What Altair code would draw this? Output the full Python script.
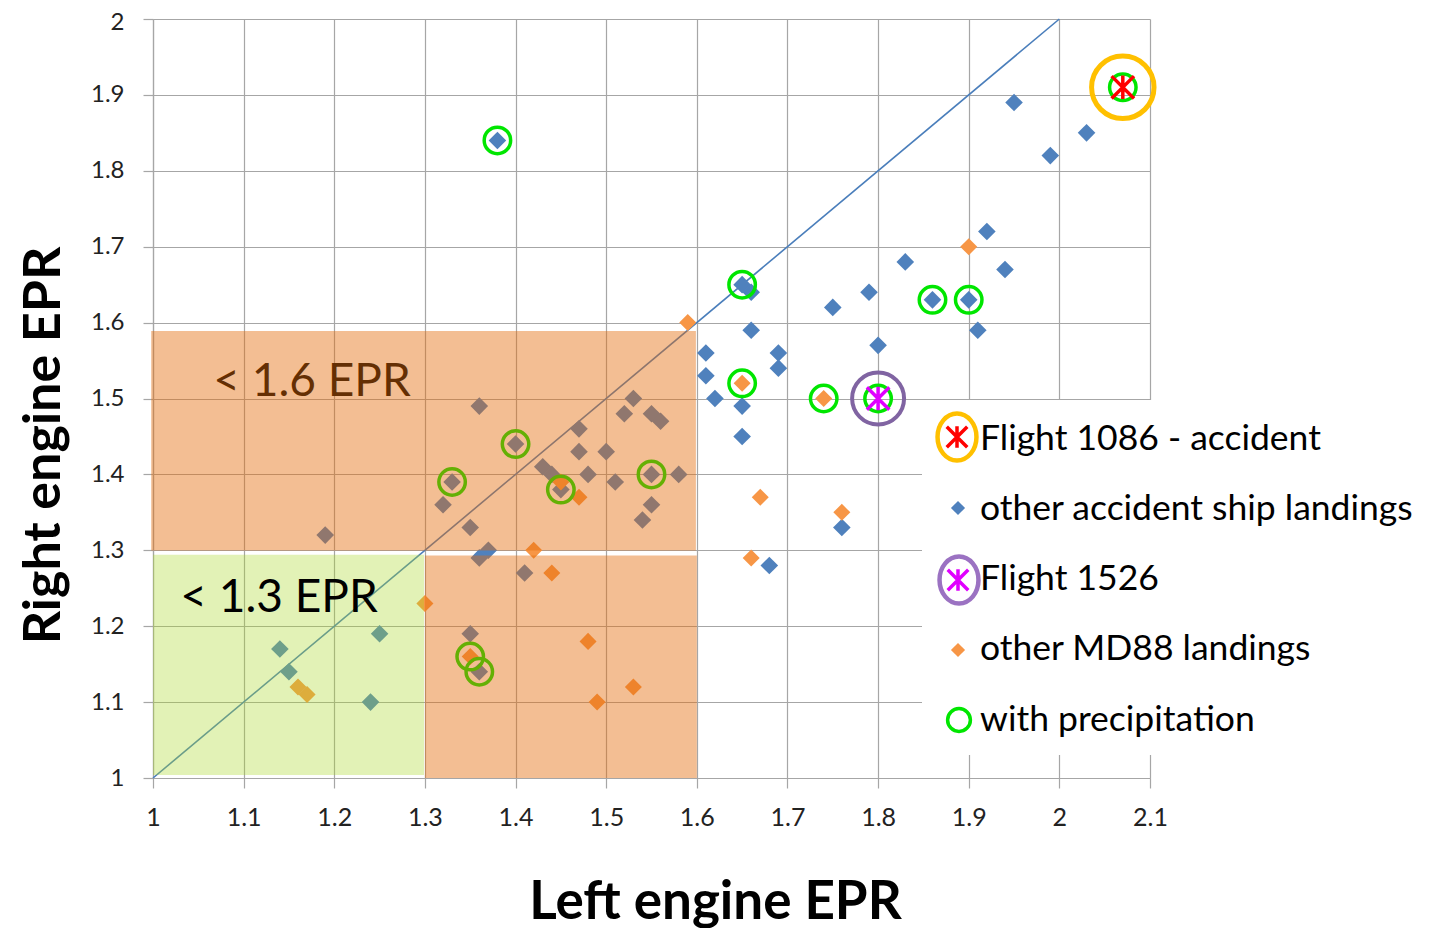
import altair as alt
import pandas as pd

# ---------------- data ----------------
ship_x = [1.38, 1.36, 1.40, 1.33, 1.32, 1.35, 1.36, 1.37, 1.19, 1.47, 1.53, 1.52, 1.55, 1.56,
          1.47, 1.50, 1.43, 1.44, 1.48, 1.45, 1.51, 1.55, 1.58, 1.55, 1.54, 1.41, 1.35, 1.36,
          1.14, 1.15, 1.25, 1.24, 1.65, 1.66, 1.66, 1.61, 1.61, 1.62, 1.65, 1.65, 1.69, 1.69,
          1.75, 1.79, 1.83, 1.80, 1.76, 1.68, 1.95, 2.03, 1.99, 1.92, 1.94, 1.86, 1.90, 1.91]
ship_y = [1.84, 1.49, 1.44, 1.39, 1.36, 1.33, 1.29, 1.30, 1.32, 1.46, 1.50, 1.48, 1.48, 1.47,
          1.43, 1.43, 1.41, 1.40, 1.40, 1.38, 1.39, 1.40, 1.40, 1.36, 1.34, 1.27, 1.19, 1.14,
          1.17, 1.14, 1.19, 1.10, 1.65, 1.64, 1.59, 1.56, 1.53, 1.50, 1.49, 1.45, 1.56, 1.54,
          1.62, 1.64, 1.68, 1.57, 1.33, 1.28, 1.89, 1.85, 1.82, 1.72, 1.67, 1.63, 1.63, 1.59]

md88_x = [1.59, 1.45, 1.47, 1.42, 1.44, 1.30, 1.35, 1.48, 1.53, 1.49, 1.16, 1.17, 1.65, 1.74,
          1.67, 1.76, 1.66, 1.90]
md88_y = [1.60, 1.39, 1.37, 1.30, 1.27, 1.23, 1.16, 1.18, 1.12, 1.10, 1.12, 1.11, 1.52, 1.50,
          1.37, 1.35, 1.29, 1.70]

precip_x = [1.38, 1.40, 1.33, 1.45, 1.55, 1.36, 1.35, 1.65, 1.65, 1.74, 1.86, 1.90, 1.80, 2.07]
precip_y = [1.84, 1.44, 1.39, 1.38, 1.40, 1.14, 1.16, 1.65, 1.52, 1.50, 1.63, 1.63, 1.50, 1.91]

f1086_x, f1086_y = [2.07], [1.91]
f1526_x, f1526_y = [1.80], [1.50]

diag_x = [1.0, 2.0]
diag_y = [1.0, 2.0]

# shaded EPR zones
orange_x = [0.998, 1.300]
orange_x2 = [1.599, 1.600]
orange_y = [1.2996, 1.0]
orange_y2 = [1.589, 1.293]
green_x, green_x2, green_y, green_y2 = [1.0], [1.299], [1.004], [1.294]

zone_labels = ["< 1.6 EPR", "< 1.3 EPR"]
zone_lx = [1.1755, 1.139]
zone_ly = [1.503, 1.2185]

x_ticks = [1.0, 1.1, 1.2, 1.3, 1.4, 1.5, 1.6, 1.7, 1.8, 1.9, 2.0, 2.1]
y_ticks = [1.0, 1.1, 1.2, 1.3, 1.4, 1.5, 1.6, 1.7, 1.8, 1.9, 2.0]

legend_labels = ["Flight 1086 - accident", "other accident ship landings", "Flight 1526",
                 "other MD88 landings", "with precipitation"]

# ---------------- styling ----------------
TOP = 11
W, H = 997, 778 - 8 - TOP
FONT = "Lato"
GRID = "#a6a6a6"
BLUE = "#4f81bd"
ORANGE = "#f79646"
PRECIP = "#00e600"
ASTER = "M-1,-1L1,1M-1,1L1,-1M0,-1.05L0,1.05"
ELLIPSE = "M0,-1A0.83,1,0,1,1,0,1A0.83,1,0,1,1,0,-1Z"
OY = 8 + TOP  # page y of plot top

xs = alt.Scale(domain=[1.0, 2.1], nice=False, zero=False)
ys = alt.Scale(domain=[1.0, 2.0], nice=False, zero=False)

xaxis = alt.Axis(values=x_ticks, format="~g", grid=True, gridColor=GRID, gridWidth=1.2,
                 domainColor=GRID, domainWidth=1.2, tickColor=GRID, tickSize=10, tickWidth=1.2,
                 labelFont=FONT, labelFontSize=25, labelColor="#222222", labelPadding=17,
                 labelFlush=False,
                 title="Left engine EPR", titleFont=FONT, titleFontSize=53, titleFontWeight="bold",
                 titleColor="#000000", titleX=562, titleY=140, titleAlign="center",
                 titleBaseline="alphabetic")
yaxis = alt.Axis(values=y_ticks, format="~g", grid=True, gridColor=GRID, gridWidth=1.2,
                 domainColor=GRID, domainWidth=1.2, tickColor=GRID, tickSize=10, tickWidth=1.2,
                 labelFont=FONT, labelFontSize=24, labelColor="#222222", labelPadding=19,
                 labelFlush=False,
                 labelOffset={"condition": {"test": "datum.value >= 1.99", "value": 3}, "value": 0},
                 title="Right engine EPR", titleFont=FONT, titleFontSize=52, titleFontWeight="bold",
                 titleColor="#000000", titleX=-94, titleY=445 - OY, titleAngle=-90,
                 titleAlign="center", titleBaseline="alphabetic")

diag_df = pd.DataFrame({"x": diag_x, "y": diag_y})
ship_df = pd.DataFrame({"x": ship_x, "y": ship_y})
md_df = pd.DataFrame({"x": md88_x, "y": md88_y})
pr_df = pd.DataFrame({"x": precip_x, "y": precip_y})
or_df = pd.DataFrame({"x": orange_x, "x2": orange_x2, "y": orange_y, "y2": orange_y2})
gr_df = pd.DataFrame({"x": green_x, "x2": green_x2, "y": green_y, "y2": green_y2})
z_df = pd.DataFrame({"t": zone_labels, "x": zone_lx, "y": zone_ly})
f1086_df = pd.DataFrame({"x": f1086_x, "y": f1086_y})
f1526_df = pd.DataFrame({"x": f1526_x, "y": f1526_y})


def xy():
    return dict(x=alt.X("x:Q", scale=xs), y=alt.Y("y:Q", scale=ys))


diag = alt.Chart(diag_df).mark_line(color="#4a7ebb", strokeWidth=1.6).encode(
    x=alt.X("x:Q", scale=xs, axis=xaxis), y=alt.Y("y:Q", scale=ys, axis=yaxis))

ship = alt.Chart(ship_df).mark_point(shape="diamond", filled=True, color=BLUE, opacity=1,
                                     size=310).encode(**xy())
md = alt.Chart(md_df).mark_point(shape="diamond", filled=True, color=ORANGE, opacity=1,
                                 size=290).encode(**xy())
precip = alt.Chart(pr_df).mark_point(shape="circle", filled=False, stroke=PRECIP, strokeWidth=3.5,
                                     opacity=1, size=700).encode(**xy())

z16 = alt.Chart(z_df.iloc[[0]]).mark_text(font=FONT, fontSize=46, color="#000000", align="center",
                                          baseline="alphabetic").encode(text="t:N", **xy())

orect = alt.Chart(or_df).mark_rect(color="#e46c0a", opacity=0.44).encode(
    x=alt.X("x:Q", scale=xs), x2="x2:Q", y=alt.Y("y:Q", scale=ys), y2="y2:Q")
grect = alt.Chart(gr_df).mark_rect(color="#aad928", opacity=0.34).encode(
    x=alt.X("x:Q", scale=xs), x2="x2:Q", y=alt.Y("y:Q", scale=ys), y2="y2:Q")

z13 = alt.Chart(z_df.iloc[[1]]).mark_text(font=FONT, fontSize=46, color="#000000", align="center",
                                          baseline="alphabetic").encode(text="t:N", **xy())

f1526_star = alt.Chart(f1526_df).mark_point(shape=ASTER, filled=False, stroke="#e000ff",
                                            strokeWidth=3.5, opacity=1, size=500).encode(**xy())
f1526_ring = alt.Chart(f1526_df).mark_point(shape="circle", filled=False, stroke="#8064a2",
                                            strokeWidth=4, opacity=1, size=2700).encode(**xy())
f1086_star = alt.Chart(f1086_df).mark_point(shape=ASTER, filled=False, stroke="#ff0000",
                                            strokeWidth=3.5, opacity=1, size=500).encode(**xy())
f1086_ring = alt.Chart(f1086_df).mark_point(shape="circle", filled=False, stroke="#ffc000",
                                            strokeWidth=5, opacity=1, size=3900).encode(**xy())

# ---------------- legend (drawn inside a white box) ----------------
one = pd.DataFrame({"a": [0]})
leg_box = alt.Chart(one).mark_rect(color="white", opacity=1).encode(
    x=alt.value(769), x2=alt.value(1285), y=alt.value(400 - OY), y2=alt.value(755 - OY))

sym_x = 805
leg_y = [v - OY for v in [437, 508, 580, 650, 720]]
leg_base = [v - OY for v in [450, 520, 590, 660, 731]]

leg_items = [
    alt.Chart(one).mark_point(shape=ELLIPSE, filled=False, stroke="#ffc000", strokeWidth=4.5,
                              opacity=1, size=2200).encode(x=alt.value(sym_x - 1), y=alt.value(leg_y[0])),
    alt.Chart(one).mark_point(shape=ASTER, filled=False, stroke="#ff0000", strokeWidth=3.5,
                              opacity=1, size=420).encode(x=alt.value(sym_x - 1), y=alt.value(leg_y[0])),
    alt.Chart(one).mark_point(shape="diamond", filled=True, color=BLUE, opacity=1,
                              size=200).encode(x=alt.value(sym_x), y=alt.value(leg_y[1])),
    alt.Chart(one).mark_point(shape=ELLIPSE, filled=False, stroke="#9b72c2", strokeWidth=4.5,
                              opacity=1, size=2200).encode(x=alt.value(sym_x + 1), y=alt.value(leg_y[2])),
    alt.Chart(one).mark_point(shape=ASTER, filled=False, stroke="#e000ff", strokeWidth=3.5,
                              opacity=1, size=420).encode(x=alt.value(sym_x), y=alt.value(leg_y[2])),
    alt.Chart(one).mark_point(shape="diamond", filled=True, color=ORANGE, opacity=1,
                              size=200).encode(x=alt.value(sym_x), y=alt.value(leg_y[3])),
    alt.Chart(one).mark_point(shape="circle", filled=False, stroke=PRECIP, strokeWidth=3.5,
                              opacity=1, size=520).encode(x=alt.value(sym_x + 1), y=alt.value(leg_y[4])),
]
for lbl, yb in zip(legend_labels, leg_base):
    leg_items.append(
        alt.Chart(pd.DataFrame({"t": [lbl]})).mark_text(
            font=FONT, fontSize=35.5, color="#000000", align="left", baseline="alphabetic"
        ).encode(x=alt.value(827), y=alt.value(yb), text="t:N"))

chart = alt.layer(
    diag, ship, md, precip, z16, orect, grect, z13,
    f1526_star, f1526_ring, f1086_star, f1086_ring,
    leg_box, *leg_items
).properties(
    width=W, height=H,
    autosize=alt.AutoSizeParams(type="none"),
    padding={"left": 145, "top": TOP, "right": 272, "bottom": 150},
).configure_view(stroke=None)

chart.save("out.html", embed_options={"renderer": "svg", "actions": False})
